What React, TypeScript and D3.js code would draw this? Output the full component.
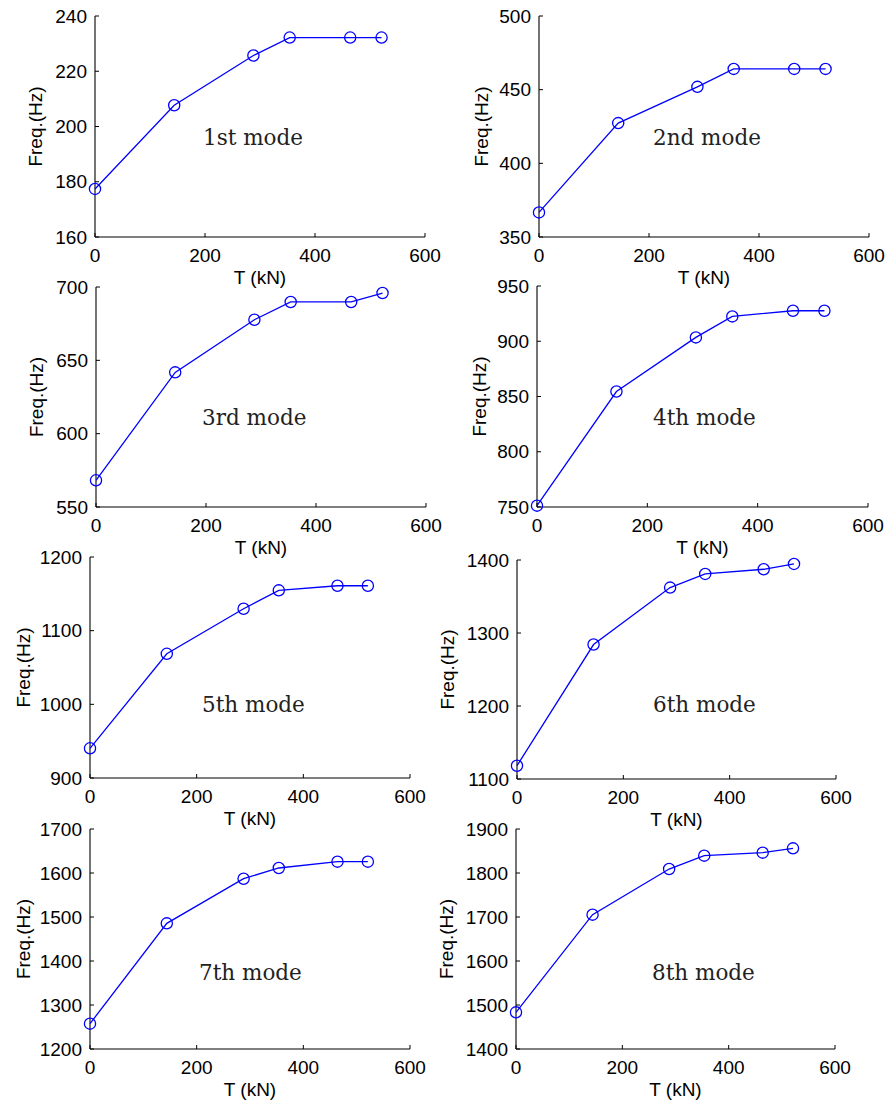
import React from "react";
import * as d3 from "d3";

// ---------- data ----------
const tension = [0, 144, 288, 354, 464, 521];

const mode1Freq = [177.4, 207.7, 225.7, 232.2, 232.2, 232.2];
const mode2Freq = [366.7, 427.3, 451.9, 464.1, 464.1, 464.1];
const mode3Freq = [568.2, 641.8, 677.7, 689.8, 689.8, 695.9];
const mode4Freq = [751.2, 854.5, 903.5, 922.5, 927.6, 927.6];
const mode5Freq = [940.3, 1068.6, 1129.7, 1154.7, 1161, 1161];
const mode6Freq = [1118.2, 1284.2, 1362.2, 1380.9, 1387.3, 1394.6];
const mode7Freq = [1257.6, 1485.6, 1587, 1611.4, 1625.8, 1625.8];
const mode8Freq = [1483.3, 1705.3, 1809, 1839.4, 1846.2, 1856];

const modeLabels = ["1st mode", "2nd mode", "3rd mode", "4th mode", "5th mode", "6th mode", "7th mode", "8th mode"];

const xTicks = [0, 200, 400, 600];
const yTicks1 = [160, 180, 200, 220, 240];
const yTicks2 = [350, 400, 450, 500];
const yTicks3 = [550, 600, 650, 700];
const yTicks4 = [750, 800, 850, 900, 950];
const yTicks5 = [900, 1000, 1100, 1200];
const yTicks6 = [1100, 1200, 1300, 1400];
const yTicks7 = [1200, 1300, 1400, 1500, 1600, 1700];
const yTicks8 = [1400, 1500, 1600, 1700, 1800, 1900];

const xLabel = "T (kN)";
const yLabel = "Freq.(Hz)";

// ---------- layout ----------
const frames = [
  { x0: 95, x1: 425, y0: 16, y1: 237, lx: 108, ly: 129, yl: 60 },
  { x0: 539, x1: 869, y0: 16, y1: 237, lx: 114, ly: 129, yl: 58 },
  { x0: 96, x1: 426, y0: 287, y1: 507, lx: 106, ly: 138, yl: 60 },
  { x0: 537, x1: 868, y0: 286, y1: 507, lx: 116, ly: 139, yl: 58 },
  { x0: 90, x1: 410, y0: 557, y1: 778, lx: 112, ly: 155, yl: 67 },
  { x0: 517, x1: 836, y0: 560, y1: 779, lx: 136, ly: 152, yl: 70 },
  { x0: 90, x1: 410, y0: 829, y1: 1049, lx: 109, ly: 151, yl: 67 },
  { x0: 516, x1: 835, y0: 829, y1: 1049, lx: 136, ly: 151, yl: 70 },
];

const series = [mode1Freq, mode2Freq, mode3Freq, mode4Freq, mode5Freq, mode6Freq, mode7Freq, mode8Freq];
const yTickSets = [yTicks1, yTicks2, yTicks3, yTicks4, yTicks5, yTicks6, yTicks7, yTicks8];

const SANS = "'Liberation Sans', Arial, sans-serif";
const SERIF = "'DejaVu Serif', serif";
const BLUE = "#0000ff";
const TICK = 4;
const FS = 19;

function Panel({ i }: { i: number }) {
  const f = frames[i];
  const yTicks = yTickSets[i];
  const vals = series[i];
  const x = d3.scaleLinear().domain([xTicks[0], xTicks[xTicks.length - 1]]).range([f.x0, f.x1]);
  const y = d3.scaleLinear().domain([yTicks[0], yTicks[yTicks.length - 1]]).range([f.y1, f.y0]);
  const pts = tension.map((t, k) => [t, vals[k]] as [number, number]);
  const line = d3.line<[number, number]>().x((d) => x(d[0])).y((d) => y(d[1]));
  return (
    <g>
      {/* axes */}
      <line x1={f.x0} x2={f.x0} y1={f.y0} y2={f.y1} stroke="#000" strokeWidth={1.1} />
      <line x1={f.x0} x2={f.x1} y1={f.y1} y2={f.y1} stroke="#000" strokeWidth={1.1} />
      {xTicks.map((t) => (
        <g key={"x" + t}>
          <line x1={x(t)} x2={x(t)} y1={f.y1} y2={f.y1 - TICK} stroke="#000" strokeWidth={1} />
          <text x={x(t)} y={f.y1 + 25} textAnchor="middle" fontFamily={SANS} fontSize={FS} fill="#000">
            {t}
          </text>
        </g>
      ))}
      {yTicks.map((t) => (
        <g key={"y" + t}>
          <line x1={f.x0} x2={f.x0 + TICK} y1={y(t)} y2={y(t)} stroke="#000" strokeWidth={1} />
          <text x={f.x0 - 8} y={y(t)} dy="0.35em" textAnchor="end" fontFamily={SANS} fontSize={FS} fill="#000">
            {t}
          </text>
        </g>
      ))}
      <text x={(f.x0 + f.x1) / 2} y={f.y1 + 47} textAnchor="middle" fontFamily={SANS} fontSize={FS} fill="#000">
        {xLabel}
      </text>
      <text
        transform={`translate(${f.x0 - f.yl},${(f.y0 + f.y1) / 2}) rotate(-90)`}
        textAnchor="middle"
        dy="0.35em"
        fontFamily={SANS}
        fontSize={FS}
        fill="#000"
      >
        {yLabel}
      </text>
      <path d={line(pts) || ""} fill="none" stroke={BLUE} strokeWidth={1.3} />
      {pts.map((p, k) => (
        <circle key={k} cx={x(p[0])} cy={y(p[1])} r={5.6} fill="none" stroke={BLUE} strokeWidth={1.3} />
      ))}
      <text x={f.x0 + f.lx} y={f.y0 + f.ly} fontFamily={SERIF} fontSize={21.5} fill="#222">
        {modeLabels[i]}
      </text>
    </g>
  );
}

export default function App() {
  return (
    <svg
      width={887}
      height={1102}
      viewBox="0 0 887 1102"
      style={{ position: "absolute", left: 0, top: 0, background: "#fff" }}
    >
      <rect x={0} y={0} width={887} height={1102} fill="#fff" />
      {frames.map((_, i) => (
        <Panel key={i} i={i} />
      ))}
    </svg>
  );
}
